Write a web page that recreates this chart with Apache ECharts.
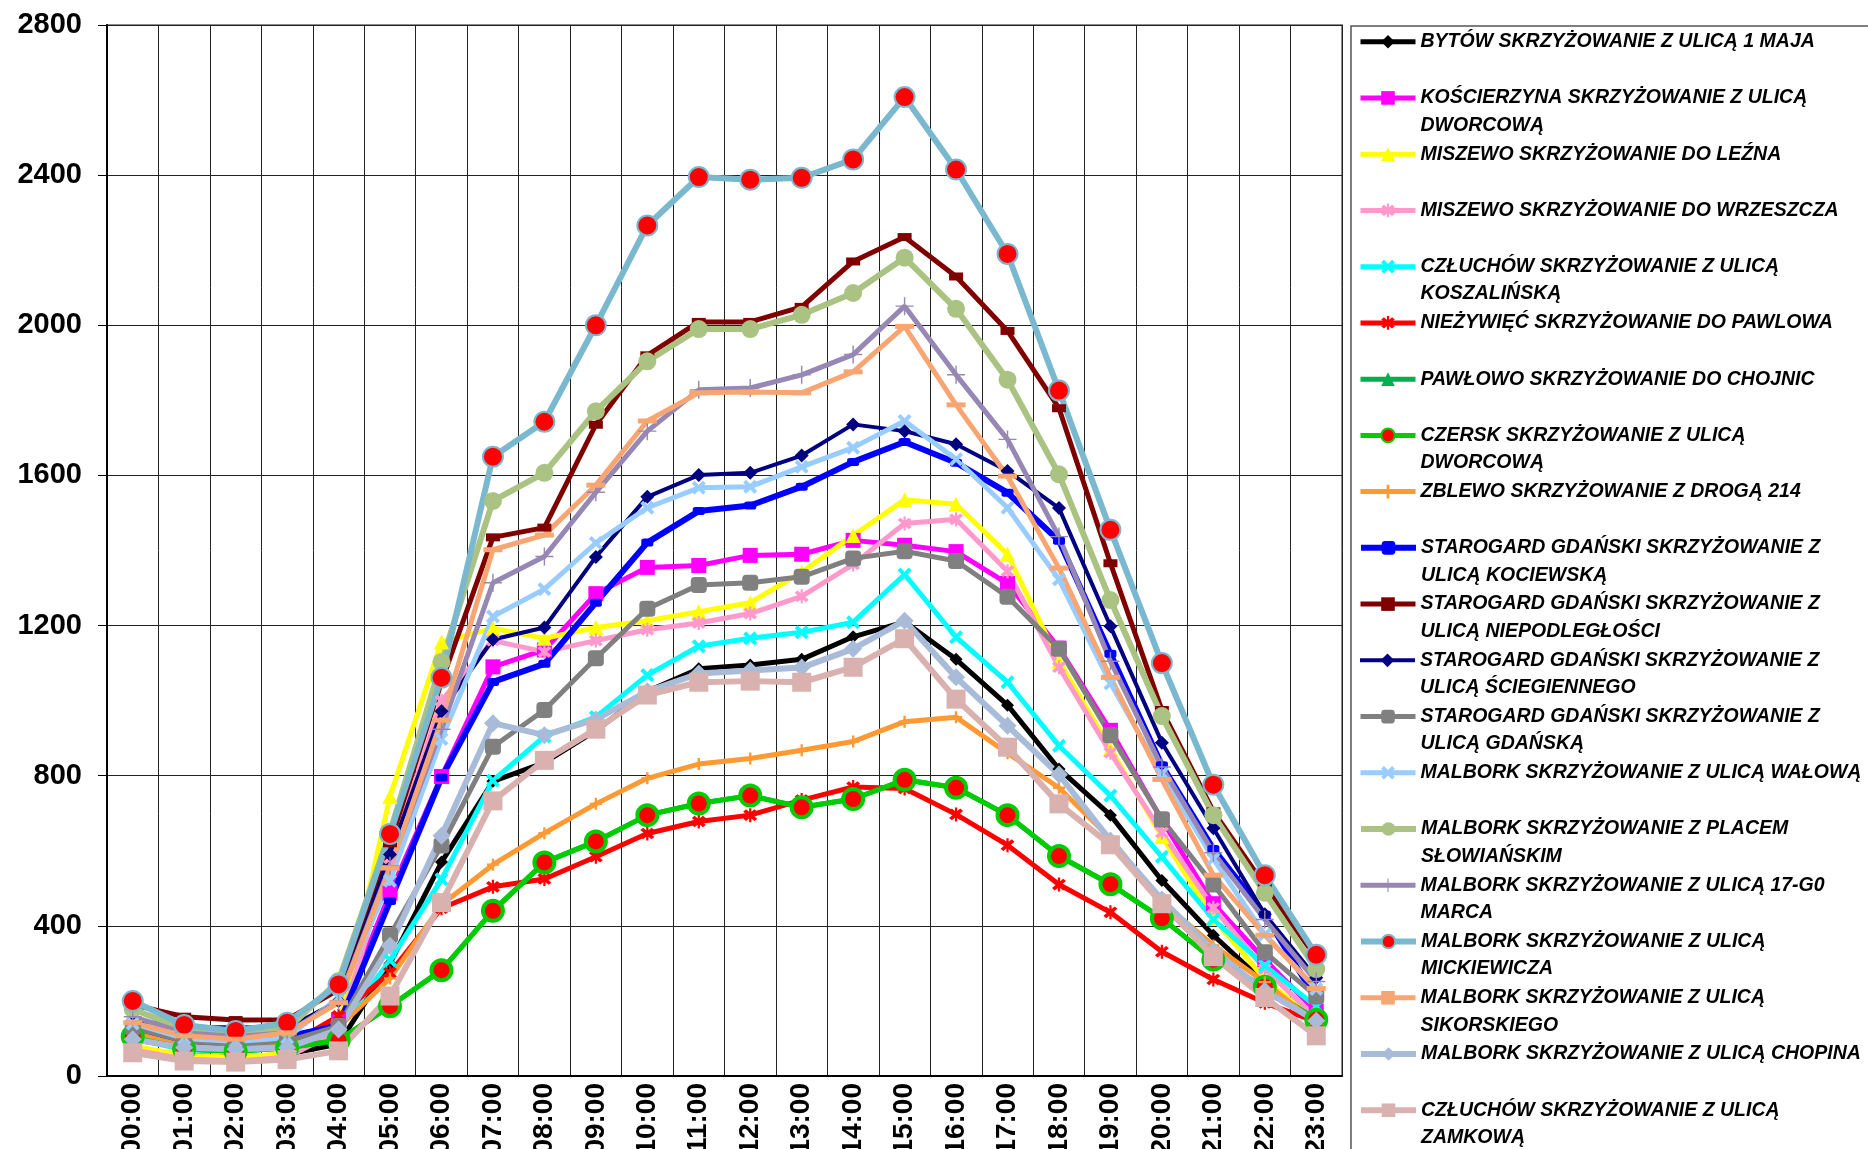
<!DOCTYPE html>
<html>
<head>
<meta charset="utf-8">
<title>Natężenie ruchu - rozkład godzinowy</title>
<script src="https://cdn.jsdelivr.net/npm/echarts@6/dist/echarts.min.js"></script>
<style>
  html, body { margin: 0; padding: 0; background: #ffffff; }
  #chart { width: 1868px; height: 1149px; }
</style>
</head>
<body>
<div id="chart"></div>
<script>
const hours = ['00:00', '01:00', '02:00', '03:00', '04:00', '05:00', '06:00', '07:00', '08:00', '09:00', '10:00', '11:00',
  '12:00', '13:00', '14:00', '15:00', '16:00', '17:00', '18:00', '19:00', '20:00', '21:00', '22:00', '23:00']

// pojazdy / godz.
const bytow = [75, 55, 50, 58, 85, 300, 570, 785, 835, 920, 1025, 1085, 1095, 1110, 1170, 1210, 1110, 988, 818, 695, 521, 375, 248, 150]
const koscierzyna = [120, 85, 78, 88, 150, 487, 798, 1090, 1135, 1285, 1355, 1360, 1387, 1390, 1427, 1414, 1397, 1312, 1140, 921, 682, 459, 310, 172]
const miszewoLezna = [80, 55, 50, 60, 130, 745, 1156, 1193, 1166, 1195, 1213, 1237, 1261, 1342, 1440, 1535, 1523, 1390, 1105, 872, 638, 420, 258, 145]
const miszewoWrzeszcz = [70, 45, 40, 50, 120, 580, 1000, 1160, 1130, 1160, 1189, 1207, 1232, 1278, 1363, 1472, 1483, 1345, 1089, 861, 649, 448, 285, 155]
const czluchowKoszalinska = [100, 70, 65, 75, 125, 308, 524, 787, 905, 956, 1068, 1145, 1166, 1182, 1209, 1336, 1169, 1049, 880, 747, 584, 417, 294, 185]
const niezywiec = [98, 75, 70, 80, 160, 275, 447, 504, 525, 584, 646, 678, 695, 735, 770, 766, 697, 615, 510, 436, 331, 257, 195, 145]
const pawlowo = [105, 72, 66, 75, 95, 186, 282, 440, 569, 625, 695, 726, 747, 716, 738, 789, 768, 695, 586, 511, 420, 310, 238, 150]
const czersk = [105, 72, 66, 75, 95, 186, 282, 440, 569, 625, 695, 726, 747, 716, 738, 789, 768, 695, 586, 511, 420, 310, 238, 150]
const zblewo = [115, 89, 80, 90, 130, 260, 456, 563, 647, 725, 793, 831, 846, 868, 891, 944, 956, 860, 768, 633, 464, 348, 250, 140]
const starogardKociewska = [130, 95, 85, 105, 135, 466, 795, 1050, 1098, 1261, 1421, 1505, 1520, 1570, 1636, 1689, 1634, 1554, 1426, 1125, 828, 605, 430, 205]
const starogardNiepodleglosci = [190, 158, 149, 150, 230, 620, 1050, 1435, 1461, 1735, 1920, 2009, 2009, 2049, 2170, 2235, 2130, 1985, 1779, 1366, 975, 705, 507, 315]
const starogardSciegiennego = [150, 130, 130, 128, 200, 590, 972, 1163, 1195, 1383, 1543, 1601, 1607, 1653, 1736, 1718, 1683, 1612, 1513, 1198, 888, 660, 431, 262]
const starogardGdanska = [129, 93, 84, 93, 133, 375, 614, 877, 975, 1113, 1245, 1308, 1314, 1330, 1379, 1398, 1372, 1277, 1138, 908, 684, 510, 330, 212]
const malborkWalowa = [140, 100, 92, 102, 209, 520, 898, 1224, 1297, 1420, 1514, 1567, 1570, 1623, 1674, 1745, 1643, 1514, 1323, 1046, 806, 578, 377, 232]
const malborkPlacem = [178, 125, 115, 125, 253, 650, 1103, 1532, 1607, 1771, 1904, 1990, 1990, 2028, 2086, 2180, 2044, 1855, 1603, 1268, 959, 695, 488, 285]
const malbork17go = [158, 115, 105, 115, 200, 560, 924, 1314, 1384, 1555, 1718, 1828, 1833, 1868, 1922, 2051, 1868, 1696, 1437, 1105, 823, 595, 417, 252]
const malborkMickiewicza = [200, 136, 120, 142, 244, 645, 1061, 1650, 1743, 2000, 2266, 2395, 2388, 2393, 2442, 2608, 2415, 2190, 1826, 1455, 1100, 776, 535, 323]
const malborkSikorskiego = [142, 107, 98, 115, 195, 554, 948, 1402, 1441, 1574, 1745, 1820, 1822, 1820, 1876, 1997, 1788, 1598, 1353, 1062, 790, 535, 375, 233]
const malborkChopina = [98, 75, 71, 75, 124, 347, 640, 940, 908, 950, 1025, 1072, 1080, 1088, 1138, 1213, 1062, 933, 803, 627, 470, 334, 227, 147]
const czluchowZamkowa = [62, 40, 37, 44, 67, 213, 462, 733, 841, 924, 1015, 1049, 1052, 1049, 1089, 1165, 1004, 876, 725, 616, 459, 318, 209, 107]

const legendLabels = [
  'BYTÓW SKRZYŻOWANIE Z ULICĄ 1 MAJA',
  'KOŚCIERZYNA SKRZYŻOWANIE Z ULICĄ\nDWORCOWĄ',
  'MISZEWO SKRZYŻOWANIE DO LEŹNA',
  'MISZEWO SKRZYŻOWANIE DO WRZESZCZA',
  'CZŁUCHÓW SKRZYŻOWANIE Z ULICĄ\nKOSZALIŃSKĄ',
  'NIEŻYWIĘĆ SKRZYŻOWANIE DO PAWLOWA',
  'PAWŁOWO SKRZYŻOWANIE DO CHOJNIC',
  'CZERSK SKRZYŻOWANIE Z ULICĄ\nDWORCOWĄ',
  'ZBLEWO SKRZYŻOWANIE Z DROGĄ 214',
  'STAROGARD GDAŃSKI SKRZYŻOWANIE Z\nULICĄ KOCIEWSKĄ',
  'STAROGARD GDAŃSKI SKRZYŻOWANIE Z\nULICĄ NIEPODLEGŁOŚCI',
  'STAROGARD GDAŃSKI SKRZYŻOWANIE Z\nULICĄ ŚCIEGIENNEGO',
  'STAROGARD GDAŃSKI SKRZYŻOWANIE Z\nULICĄ GDAŃSKĄ',
  'MALBORK SKRZYŻOWANIE Z ULICĄ WAŁOWĄ',
  'MALBORK SKRZYŻOWANIE Z PLACEM\nSŁOWIAŃSKIM',
  'MALBORK SKRZYŻOWANIE Z ULICĄ 17-G0\nMARCA',
  'MALBORK SKRZYŻOWANIE Z ULICĄ\nMICKIEWICZA',
  'MALBORK SKRZYŻOWANIE Z ULICĄ\nSIKORSKIEGO',
  'MALBORK SKRZYŻOWANIE Z ULICĄ CHOPINA',
  'CZŁUCHÓW SKRZYŻOWANIE Z ULICĄ\nZAMKOWĄ'
]

const seriesValues = [bytow, koscierzyna, miszewoLezna, miszewoWrzeszcz, czluchowKoszalinska, niezywiec, pawlowo, czersk,
  zblewo, starogardKociewska, starogardNiepodleglosci, starogardSciegiennego, starogardGdanska, malborkWalowa,
  malborkPlacem, malbork17go, malborkMickiewicza, malborkSikorskiego, malborkChopina, czluchowZamkowa]

// markery w stylu Excela
const X_MARK = 'path://M2,0 L5,3 L8,0 L10,2 L7,5 L10,8 L8,10 L5,7 L2,10 L0,8 L3,5 L0,2 Z'
const STAR_MARK = 'path://M2,0 L5,3 L8,0 L10,2 L7,5 L10,8 L8,10 L5,7 L2,10 L0,8 L3,5 L0,2 Z M4.2,-1 L5.8,-1 L5.8,11 L4.2,11 Z'
const PLUS_MARK = 'path://M4,0 L6,0 L6,4 L10,4 L10,6 L6,6 L6,10 L4,10 L4,6 L0,6 L0,4 L4,4 Z'
const THIN_PLUS = 'path://M9.2,0 L10.8,0 L10.8,9.2 L20,9.2 L20,10.8 L10.8,10.8 L10.8,20 L9.2,20 L9.2,10.8 L0,10.8 L0,9.2 L9.2,9.2 Z'

const styles = [
  { color: '#000000', width: 5, symbol: 'diamond', size: 13 },
  { color: '#FF00FF', width: 5, symbol: 'rect', size: 15 },
  { color: '#FFFF00', width: 5, symbol: 'triangle', size: 15 },
  { color: '#FF99CC', width: 5, symbol: STAR_MARK, size: 14 },
  { color: '#00FFFF', width: 5, symbol: X_MARK, size: 14 },
  { color: '#FF0000', width: 5, symbol: STAR_MARK, size: 14 },
  { color: '#00B050', width: 5, symbol: 'triangle', size: 13 },
  { color: '#00CC00', width: 5, symbol: 'circle', size: 20, fill: '#FF0000', border: 4 },
  { color: '#FF9933', width: 5, symbol: PLUS_MARK, size: 12 },
  { color: '#0000FF', width: 6, symbol: 'roundRect', size: [12, 8] },
  { color: '#800000', width: 5, symbol: 'rect', size: [14, 8] },
  { color: '#000080', width: 4, symbol: 'diamond', size: 14 },
  { color: '#808080', width: 5, symbol: 'roundRect', size: 16 },
  { color: '#99CCFF', width: 5, symbol: X_MARK, size: 14 },
  { color: '#AAC382', width: 6, symbol: 'circle', size: 18 },
  { color: '#9787B5', width: 5, symbol: THIN_PLUS, size: 18 },
  { color: '#7AB8CF', width: 6, symbol: 'circle', size: 20, fill: '#FF0000', border: 2 },
  { color: '#F7A673', width: 5, symbol: 'rect', size: [19, 5] },
  { color: '#A8BCDA', width: 6, symbol: 'diamond', size: 18 },
  { color: '#D9B1AF', width: 6, symbol: 'rect', size: 19 }
]

const names = legendLabels.map(t => t.replace('\n', ' '))
const FONT = '"Liberation Sans", Arial, sans-serif'

const series = names.map((name, i) => {
  const st = styles[i]
  return {
    name: name,
    type: 'line',
    data: seriesValues[i],
    symbol: st.symbol,
    symbolSize: st.size,
    showAllSymbol: true,
    lineStyle: { color: st.color, width: st.width },
    itemStyle: {
      color: st.fill || st.color,
      borderColor: st.color,
      borderWidth: st.border || 0
    },
    emphasis: { disabled: true }
  }
})

// legenda: stały odstęp między pozycjami, symbol przy pierwszym wierszu opisu
const LEG_TOP = 41.7
const LEG_STEP = 56.24
const LINE_H = 27.4
const legends = names.map((name, i) => {
  const twoLines = legendLabels[i].indexOf('\n') >= 0
  const center = LEG_TOP + LEG_STEP * i
  return {
    orient: 'vertical',
    left: 1358,
    top: center - (twoLines ? LINE_H * 1.5 : LINE_H / 2),
    padding: 0,
    itemWidth: 55,
    itemHeight: 17,
    selectedMode: false,
    data: [name],
    lineStyle: { width: styles[i].width },
    formatter: () => (twoLines ? ' \n' + legendLabels[i] : legendLabels[i]),
    textStyle: {
      fontFamily: FONT,
      fontSize: 19.5,
      fontWeight: 'bold',
      fontStyle: 'italic',
      color: '#000',
      lineHeight: LINE_H
    }
  }
})

const myChart = echarts.init(document.getElementById('chart'))
myChart.setOption({
  animation: false,
  backgroundColor: '#ffffff',
  grid: {
    left: 107,
    right: 526,
    top: 25,
    bottom: 73,
    outerBoundsMode: 'none',
    containLabel: false,
    show: true,
    borderColor: '#8c8c8c',
    borderWidth: 2
  },
  legend: legends,
  graphic: [{
    type: 'rect',
    shape: { x: 1351, y: 26, width: 560, height: 1160 },
    style: { fill: 'transparent', stroke: '#555555', lineWidth: 1.5 },
    silent: true
  }],
  xAxis: {
    type: 'category',
    boundaryGap: true,
    data: hours,
    axisLine: { lineStyle: { color: '#000', width: 2 } },
    axisTick: { length: 9, lineStyle: { color: '#000', width: 1 } },
    axisLabel: {
      interval: 0,
      rotate: 90,
      margin: 7,
      color: '#000',
      fontFamily: FONT,
      fontSize: 28,
      fontWeight: 'bold'
    },
    splitLine: { show: true, interval: 0, lineStyle: { color: '#222', width: 1 } }
  },
  yAxis: {
    type: 'value',
    min: 0,
    max: 2800,
    interval: 400,
    axisLine: { show: true, lineStyle: { color: '#000', width: 2 } },
    axisTick: { show: true, length: 9, lineStyle: { color: '#000', width: 1 } },
    axisLabel: {
      margin: 25,
      color: '#000',
      fontFamily: FONT,
      fontSize: 29,
      fontWeight: 'bold',
      formatter: v => String(v)
    },
    splitLine: { lineStyle: { color: '#222', width: 1 } }
  },
  series: series
})
window.addEventListener('resize', function() {
  myChart.resize()
})
</script>
</body>
</html>
